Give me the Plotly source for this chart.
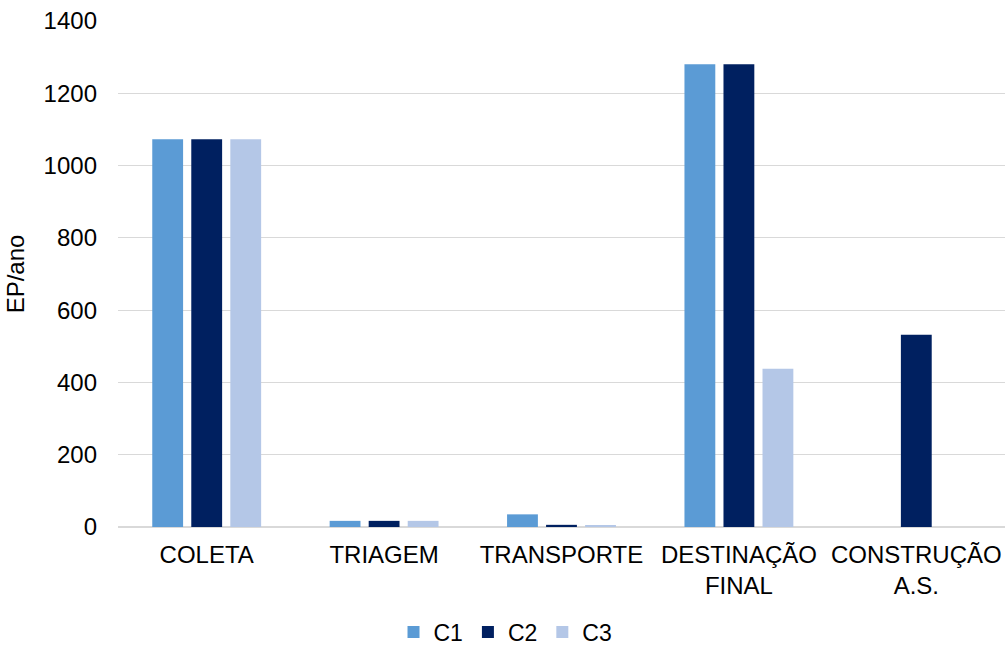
import plotly.graph_objects as go

# Etapas do sistema e valores (EP/ano) por cenário
categorias = ["COLETA", "TRIAGEM", "TRANSPORTE", "DESTINAÇÃO<br>FINAL", "CONSTRUÇÃO<br>A.S."]
c1 = [1073, 17, 35, 1280, 0]
c2 = [1073, 17, 6, 1280, 532]
c3 = [1073, 17, 5, 438, 0]
y_ticks = [0, 200, 400, 600, 800, 1000, 1200, 1400]

cores = {"C1": "#5b9bd5", "C2": "#002060", "C3": "#b4c7e7"}
FONTE = "Liberation Sans, Arial, sans-serif"
TAM = 24

fig = go.Figure()
for nome, valores in (("C1", c1), ("C2", c2), ("C3", c3)):
    fig.add_trace(go.Bar(
        x=categorias, y=valores, name=nome,
        marker=dict(color=cores[nome], line=dict(width=0)),
    ))

fig.update_layout(
    width=1005, height=646,
    margin=dict(l=118, r=0, t=21, b=119, autoexpand=False),
    paper_bgcolor="white", plot_bgcolor="white",
    font=dict(family=FONTE, size=TAM, color="#000000"),
    barmode="group", bargap=0.34, bargroupgap=0.21,
    showlegend=True,
    legend=dict(
        orientation="h", xref="container", yref="container",
        x=0.503, y=0.0215, xanchor="center", yanchor="middle",
        font=dict(family=FONTE, size=23, color="#000000"),
        itemwidth=30, tracegroupgap=0,
    ),
)
fig.update_xaxes(
    showline=False, showgrid=False, ticks="", tickangle=0, automargin=False,
    ticklabelstandoff=11,
    tickfont=dict(family=FONTE, size=TAM),
)
fig.update_yaxes(
    range=[0, 1400], tickvals=y_ticks, ticktext=[str(v) for v in y_ticks],
    showgrid=True, gridcolor="#d9d9d9", gridwidth=1.4,
    zeroline=True, zerolinecolor="#d9d9d9", zerolinewidth=1.6,
    showline=False, ticks="", ticklabelstandoff=20, automargin=False,
    tickfont=dict(family=FONTE, size=TAM),
    title=dict(text="EP/ano", font=dict(family=FONTE, size=TAM), standoff=12),
)

fig.write_html("out.html")
